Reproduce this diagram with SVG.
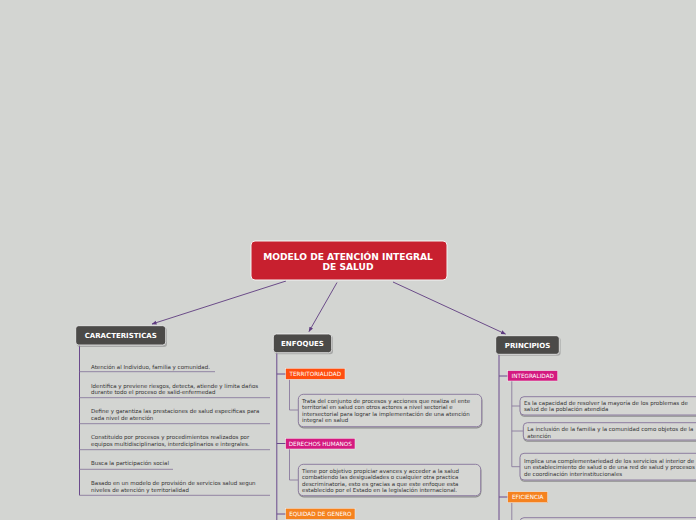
<svg xmlns="http://www.w3.org/2000/svg" width="696" height="520" viewBox="0 0 696 520">
<defs>
<marker id="arr" viewBox="0 0 10 10" refX="9" refY="5" markerWidth="5" markerHeight="5" orient="auto" markerUnits="userSpaceOnUse"><path d="M0,1 L10,5 L0,9 z" fill="#5f3c80"/></marker>
</defs>
<style>
text{font-family:"DejaVu Sans","Verdana",sans-serif}
.title{font-size:9.1px;font-weight:bold;fill:#fff;text-anchor:middle}
.main{font-size:7px;font-weight:bold;fill:#fff;text-anchor:middle}
.tag{font-size:5.7px;fill:#fff;text-anchor:middle}
.t{font-size:5.5px;fill:#333}
.dark{fill:#4b4a48;stroke:#f2f2f2;stroke-width:0.8}
.shadow{fill:#8a8a8a;opacity:0.6}
.box{fill:#d5d6d3;stroke:#8d7da0;stroke-width:1}
.boxsh{fill:none;stroke:#6e6e6e;stroke-width:1.2;opacity:0.7}
.conn{stroke:#5f3c80;stroke-width:0.9;fill:none}
.br{stroke:#6a4a8c;stroke-width:1;fill:none}
.ul{stroke:#8a7b9e;stroke-width:0.9;fill:none}
</style>
<rect width="696" height="520" fill="#d3d5d2"/>

<g id="connectors">
<line class="conn" x1="286" y1="281" x2="152" y2="324" marker-end="url(#arr)"/>
<line class="conn" x1="337" y1="282.5" x2="309" y2="331.5" marker-end="url(#arr)"/>
<line class="conn" x1="393" y1="282" x2="505.5" y2="334" marker-end="url(#arr)"/>
<path class="br" d="M79.5,345 V495.3"/>
<path class="ul" d="M79.5,371.7 H215 M79.5,397.7 H270 M79.5,423.7 H270 M79.5,449.7 H270 M79.5,469.3 H173 M79.5,495.3 H270"/>
<path class="br" d="M276.8,353 V520 M276.8,374 H286 M276.8,443.5 H286 M276.8,514 H286"/>
<path class="ul" d="M289.5,379.5 V410 H298.5 M289.5,449 V480 H298.5"/>
<path class="br" d="M499,354.5 V520 M499,376 H508 M499,497 H508"/>
<path class="ul" d="M511.8,381 V466.7 M511.8,406 H520 M511.8,431 H523.5 M511.8,466.7 H520 M511.8,503 V520"/>
</g>

<g id="root">
<rect x="251" y="241" width="196" height="39" rx="4" fill="#c8202f" stroke="#f4f4f4" stroke-width="1"/>
<text class="title" x="348" y="259.5">MODELO DE ATENCIÓN INTEGRAL</text>
<text class="title" x="348" y="270.3">DE SALUD</text>
</g>

<g id="caracteristicas">
<rect class="shadow" x="77" y="327.5" width="90" height="19.5" rx="3"/>
<rect class="dark" x="75.7" y="325.7" width="90" height="19.3" rx="3"/>
<text class="main" x="120.7" y="338">CARACTERISTICAS</text>
</g>
<g id="car-items">
<text class="t" x="91" y="368.5">Atención al Individuo, familia y comunidad.</text>
<text class="t" x="91" y="387.5">Identifica y previene riesgos, detecta, atiende y limita daños</text>
<text class="t" x="91" y="394.2">durante todo el proceso de salid-enfermedad</text>
<text class="t" x="91" y="413.2">Define y garantiza las prestaciones de salud especificas para</text>
<text class="t" x="91" y="420.2">cada nivel de atención</text>
<text class="t" x="91" y="439.2">Constituido por procesos y procedimientos realizados por</text>
<text class="t" x="91" y="446.2">equipos multidisciplinarios, interdiciplinarios e integrales.</text>
<text class="t" x="91" y="465.2">Busca la participación social</text>
<text class="t" x="91" y="485.2">Basado en un modelo de provisión de servicios salud segun</text>
<text class="t" x="91" y="491.9">niveles de atención y territorialidad</text>
</g>

<g id="enfoques">
<rect class="shadow" x="274.6" y="335.5" width="58.4" height="18.7" rx="3"/>
<rect class="dark" x="273.3" y="334" width="58.4" height="18.7" rx="3"/>
<text class="main" x="302.5" y="346">ENFOQUES</text>
</g>
<g id="territorialidad">
<rect x="285.7" y="368.3" width="59.3" height="11" fill="#ff4e0f" stroke="#f0f0f0" stroke-width="0.5"/>
<text class="tag" x="315.3" y="375.9">TERRITORIALIDAD</text>
</g>
<g id="territorialidad-desc">
<rect class="boxsh" x="298.8" y="395.5" width="183" height="32.3" rx="5"/>
<rect class="box" x="298.3" y="394.3" width="183.4" height="32.4" rx="5"/>
<text class="t" x="302" y="402.8">Trata del conjunto de procesos y acciones que realiza el ente</text>
<text class="t" x="302" y="408.8">territorial en salud con otros actores a nivel sectorial e</text>
<text class="t" x="302" y="415.8">intersectorial para lograr la implementación de una atención</text>
<text class="t" x="302" y="421.8">integral en salud</text>
</g>
<g id="derechos">
<rect x="285.7" y="438.3" width="69.3" height="10.7" fill="#d41a80" stroke="#f0f0f0" stroke-width="0.5"/>
<text class="tag" x="320.3" y="445.7">DERECHOS HUMANOS</text>
</g>
<g id="derechos-desc">
<rect class="boxsh" x="298.8" y="465.5" width="182" height="31.3" rx="5"/>
<rect class="box" x="298.3" y="464.3" width="182.4" height="31.4" rx="5"/>
<text class="t" x="302" y="472.8">Tiene por objetivo propiciar avances y acceder a la salud</text>
<text class="t" x="302" y="479.1">combatiendo las desigualdades o cualquier otra practica</text>
<text class="t" x="302" y="485.8">descriminatoria, esto es gracias a que este enfoque esta</text>
<text class="t" x="302" y="491.8">establecido por el Estado en la legislación internacional.</text>
</g>
<g id="equidad">
<rect x="285.7" y="508.3" width="69.3" height="11" fill="#f5821f" stroke="#f0f0f0" stroke-width="0.5"/>
<text class="tag" x="320.3" y="515.9">EQUIDAD DE GENERO</text>
</g>

<g id="principios">
<rect class="shadow" x="497" y="337.2" width="63.6" height="18.6" rx="3"/>
<rect class="dark" x="495.7" y="335.7" width="63.6" height="18.6" rx="3"/>
<text class="main" x="527.5" y="348.3">PRINCIPIOS</text>
</g>
<g id="integralidad">
<rect x="507.7" y="370.7" width="50" height="10.3" fill="#d41a80" stroke="#f0f0f0" stroke-width="0.5"/>
<text class="tag" x="532.7" y="377.9">INTEGRALIDAD</text>
</g>
<g id="integralidad-a">
<rect class="boxsh" x="520.5" y="398" width="180" height="18.2" rx="4"/>
<rect class="box" x="520" y="396.7" width="180" height="18.3" rx="4"/>
<text class="t" x="524" y="404.5">Es la capacidad de resolver la mayoría  de los problemas de</text>
<text class="t" x="524" y="411.1">salud de la población atendida</text>
</g>
<g id="integralidad-b">
<rect class="boxsh" x="523.8" y="424" width="180" height="17.2" rx="4"/>
<rect class="box" x="523.3" y="422.7" width="180" height="17.3" rx="4"/>
<text class="t" x="527.3" y="430.8">La inclusión de la familia y la comunidad como objetos de la</text>
<text class="t" x="527.3" y="437.8">atención</text>
</g>
<g id="integralidad-c">
<rect class="boxsh" x="520.5" y="454.6" width="180" height="26.6" rx="4"/>
<rect class="box" x="520" y="453.3" width="180" height="26.7" rx="4"/>
<text class="t" x="524" y="462.5">Implica una complementariedad de los servicios al interior de</text>
<text class="t" x="524" y="469.1">un establecimiento de salud o de una red de salud y procesos</text>
<text class="t" x="524" y="476.1">de coordinación interinstitucionales</text>
</g>
<g id="eficiencia">
<rect x="507.7" y="491.7" width="40" height="11" fill="#f5821f" stroke="#f0f0f0" stroke-width="0.5"/>
<text class="tag" x="527.7" y="499.2">EFICIENCIA</text>
</g>
<g id="eficiencia-a">
<rect class="box" x="520" y="517.7" width="180" height="20" rx="4"/>
</g>
</svg>
